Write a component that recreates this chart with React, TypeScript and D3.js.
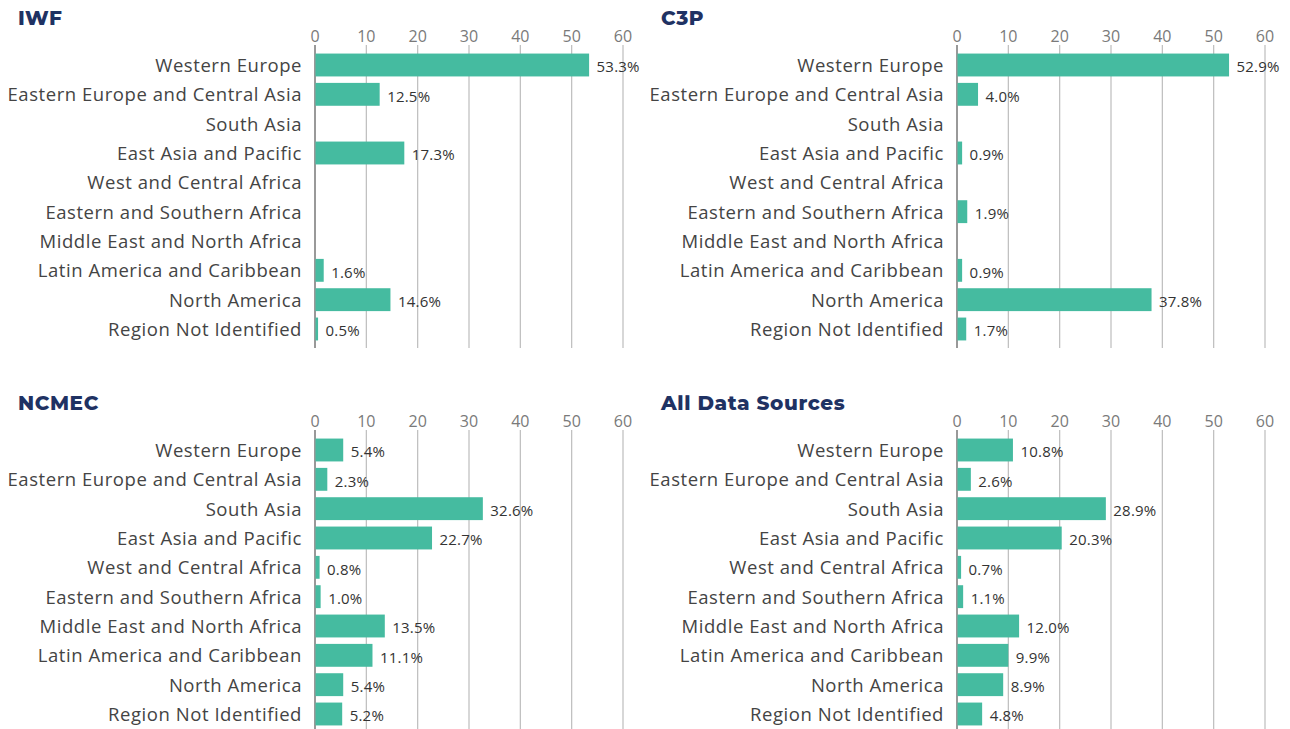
import { useEffect, useRef } from "react"
import * as d3 from "d3"

const regions = [
  "Western Europe",
  "Eastern Europe and Central Asia",
  "South Asia",
  "East Asia and Pacific",
  "West and Central Africa",
  "Eastern and Southern Africa",
  "Middle East and North Africa",
  "Latin America and Caribbean",
  "North America",
  "Region Not Identified",
]

const iwfValues = [53.3, 12.5, null, 17.3, null, null, null, 1.6, 14.6, 0.5]
const c3pValues = [52.9, 4.0, null, 0.9, null, 1.9, null, 0.9, 37.8, 1.7]
const ncmecValues = [5.4, 2.3, 32.6, 22.7, 0.8, 1.0, 13.5, 11.1, 5.4, 5.2]
const allValues = [10.8, 2.6, 28.9, 20.3, 0.7, 1.1, 12.0, 9.9, 8.9, 4.8]

const panelTitles = ["IWF", "C3P", "NCMEC", "All Data Sources"]
const tickValues = [0, 10, 20, 30, 40, 50, 60]

const FONT = "'Open Sans', sans-serif"
const BAR_COLOR = "#45bba0"
const TITLE_COLOR = "#1f3263"

export default function App() {
  const svgRef = useRef<SVGSVGElement>(null)

  useEffect(() => {
    if (!svgRef.current) return
    const root = d3.select(svgRef.current)
    root.selectAll("*").remove()

    const panels = [
      { title: panelTitles[0], values: iwfValues, x0: 315, y0: 0 },
      { title: panelTitles[1], values: c3pValues, x0: 957, y0: 0 },
      { title: panelTitles[2], values: ncmecValues, x0: 315, y0: 385 },
      { title: panelTitles[3], values: allValues, x0: 957, y0: 385 },
    ]

    panels.forEach((p, i) => {
      const g = root.append("g").attr("transform", `translate(0,${p.y0})`)

      const x = d3.scaleLinear().domain([0, 60]).range([p.x0, p.x0 + 308])
      const y = d3
        .scaleBand<string>()
        .domain(regions)
        .range([50.33, 343.67])
        .paddingInner(0.22)
        .paddingOuter(0.11)

      // title
      g.append("text")
        .attr("x", i % 2 === 0 ? 18 : 661)
        .attr("y", 25)
        .attr("fill", TITLE_COLOR)
        .attr("font-family", "Montserrat, 'Open Sans', sans-serif")
        .attr("font-weight", 800)
        .attr("font-size", "20px")
        .attr("letter-spacing", "0.6px")
        .text(p.title)

      // grid lines
      g.selectAll(".grid")
        .data(tickValues)
        .enter()
        .append("line")
        .attr("x1", d => x(d))
        .attr("x2", d => x(d))
        .attr("y1", 45)
        .attr("y2", 348)
        .attr("stroke", d => (d === 0 ? "#555" : "#bdbdbd"))
        .attr("stroke-width", 1.2)

      // tick labels
      g.selectAll(".tick")
        .data(tickValues)
        .enter()
        .append("text")
        .attr("x", d => x(d))
        .attr("y", 42)
        .attr("text-anchor", "middle")
        .attr("fill", "#7a7a7a")
        .attr("font-family", FONT)
        .attr("font-size", "16px")
        .text(d => d)

      // category labels
      g.selectAll(".cat")
        .data(regions)
        .enter()
        .append("text")
        .attr("x", p.x0 - 13)
        .attr("y", d => (y(d) as number) + y.bandwidth() / 2 + 0.5)
        .attr("dy", "0.35em")
        .attr("text-anchor", "end")
        .attr("fill", "#444")
        .attr("font-family", FONT)
        .attr("font-size", "18.5px")
        .attr("letter-spacing", "0.55px")
        .text(d => d)

      const rows = regions
        .map((r, k) => ({ r, v: p.values[k] }))
        .filter(d => d.v !== null) as { r: string; v: number }[]

      g.selectAll(".bar")
        .data(rows)
        .enter()
        .append("rect")
        .attr("x", x(0) + 0.5)
        .attr("y", d => y(d.r) as number)
        .attr("width", d => x(d.v) - x(0))
        .attr("height", y.bandwidth())
        .attr("fill", BAR_COLOR)

      g.selectAll(".val")
        .data(rows)
        .enter()
        .append("text")
        .attr("x", d => x(d.v) + 8)
        .attr("y", d => (y(d.r) as number) + y.bandwidth() / 2 + 2)
        .attr("dy", "0.35em")
        .attr("fill", "#333")
        .attr("font-family", FONT)
        .attr("font-size", "15px")
        .attr("letter-spacing", "0.2px")
        .text(d => `${d.v.toFixed(1)}%`)
    })
  }, [])

  return (
    <div style={{ position: "fixed", left: 0, top: 0, background: "#fff" }}>
      <svg ref={svgRef} width={1290} height={729} style={{ display: "block" }} />
    </div>
  )
}
